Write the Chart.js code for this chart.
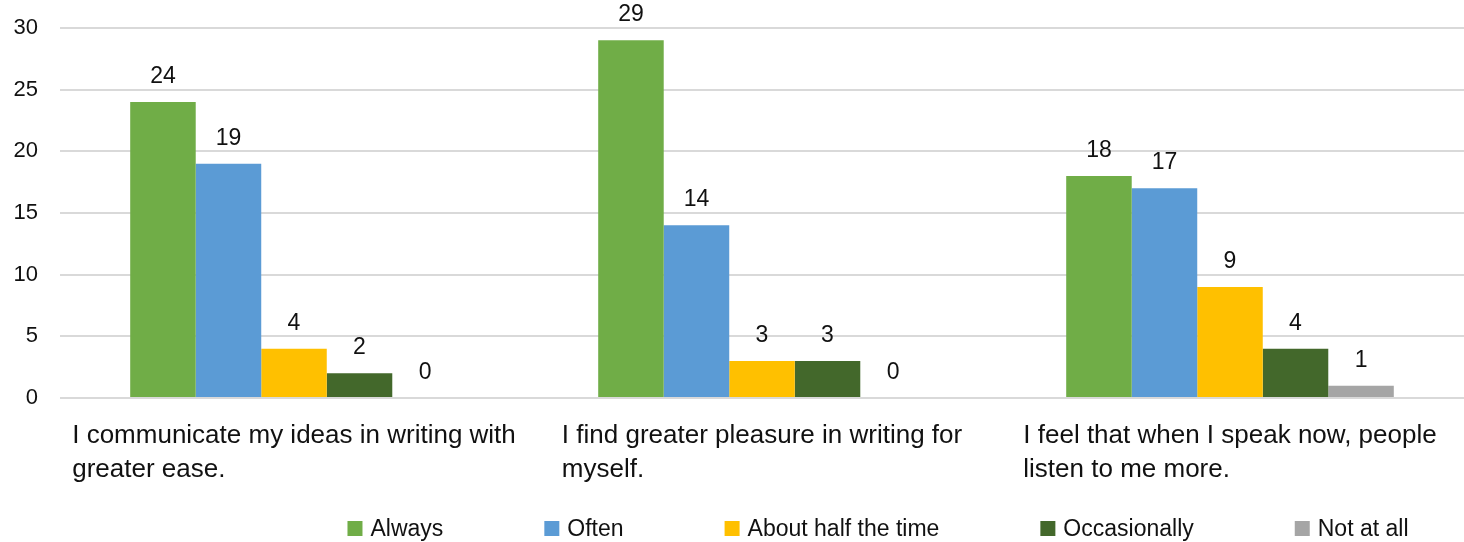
<!DOCTYPE html>
<html>
<head>
<meta charset="utf-8">
<script src="https://cdn.jsdelivr.net/npm/chart.js@4/dist/chart.umd.min.js"></script>
<style>
  html, body { margin: 0; padding: 0; background: #fff; }
  #wrap { width: 1464px; height: 542px; }
</style>
</head>
<body>
<div id="wrap"><canvas id="surveyChart" width="1464" height="542"></canvas></div>
<script>
const categories = [
    ['I communicate my ideas in writing with', 'greater ease.'],
    ['I find greater pleasure in writing for', 'myself.'],
    ['I feel that when I speak now, people', 'listen to me more.']
];
const seriesNames = ['Always', 'Often', 'About half the time', 'Occasionally', 'Not at all'];
const always       = [24, 29, 18];
const often        = [19, 14, 17];
const aboutHalf    = [4, 3, 9];
const occasionally = [2, 3, 4];
const notAtAll     = [0, 0, 1];
const yTicks = [0, 5, 10, 15, 20, 25, 30];

const colors = ['#70ad47', '#5b9bd5', '#ffc000', '#43682b', '#a5a5a5'];
const FONT = '"Liberation Sans", Arial, sans-serif';
const TEXT_COLOR = '#111';

// value labels, wrapped category labels and the legend row
const textPlugin = {
    id: 'textPlugin',
    afterDatasetsDraw(chart) {
        const ctx = chart.ctx;
        const area = chart.chartArea;
        ctx.save();
        ctx.fillStyle = TEXT_COLOR;
        ctx.textBaseline = 'alphabetic';

        ctx.font = '23px ' + FONT;
        ctx.textAlign = 'center';
        chart.data.datasets.forEach((ds, i) => {
            chart.getDatasetMeta(i).data.forEach((bar, j) => {
                ctx.fillText(String(ds.data[j]), bar.x, bar.y - 19);
            });
        });

        ctx.font = '26px ' + FONT;
        ctx.textAlign = 'left';
        const xs = chart.scales.x;
        categories.forEach((lines, j) => {
            const cx = xs.getPixelForValue(j);
            const w = Math.max(...lines.map(l => ctx.measureText(l).width));
            lines.forEach((l, k) => {
                ctx.fillText(l, cx - w / 2, area.bottom + 45 + k * 34);
            });
        });

        // legend
        ctx.font = '23px ' + FONT;
        const box = 15, gap = 8, spacing = 101;
        const widths = chart.data.datasets.map(ds => ctx.measureText(ds.label).width);
        const total = widths.reduce((a, b) => a + b, 0) + widths.length * (box + gap) + (widths.length - 1) * spacing;
        let x = 878 - total / 2;
        const baseY = 536;
        chart.data.datasets.forEach((ds, i) => {
            ctx.fillStyle = ds.backgroundColor;
            ctx.fillRect(x, baseY - 15, box, box);
            ctx.fillStyle = TEXT_COLOR;
            ctx.fillText(ds.label, x + box + gap, baseY);
            x += box + gap + widths[i] + spacing;
        });
        ctx.restore();
    }
};

const seriesData = [always, often, aboutHalf, occasionally, notAtAll];

new Chart(document.getElementById('surveyChart'), {
    type: 'bar',
    data: {
        labels: categories,
        datasets: seriesNames.map((name, i) => ({
            label: name,
            data: seriesData[i],
            backgroundColor: colors[i],
            borderWidth: 0,
            categoryPercentage: 0.7,
            barPercentage: 1
        }))
    },
    options: {
        responsive: false,
        animation: false,
        devicePixelRatio: 1,
        layout: { padding: { top: 28, left: 12, right: 0, bottom: 136 } },
        plugins: {
            legend: { display: false },
            tooltip: { enabled: false }
        },
        scales: {
            x: {
                grid: { display: false },
                border: { display: false },
                ticks: { display: false }
            },
            y: {
                min: 0,
                max: 30,
                afterBuildTicks(axis) {
                    axis.ticks = yTicks.map(v => ({ value: v }));
                },
                afterFit(axis) {
                    axis.width = 48;
                    axis.paddingTop = 0;
                    axis.paddingBottom = 0;
                },
                grid: { color: '#d9d9d9', lineWidth: 2, drawTicks: false },
                border: { display: false },
                ticks: {
                    padding: 22,
                    color: TEXT_COLOR,
                    font: { family: FONT, size: 22 }
                }
            }
        }
    },
    plugins: [textPlugin]
});
</script>
</body>
</html>
